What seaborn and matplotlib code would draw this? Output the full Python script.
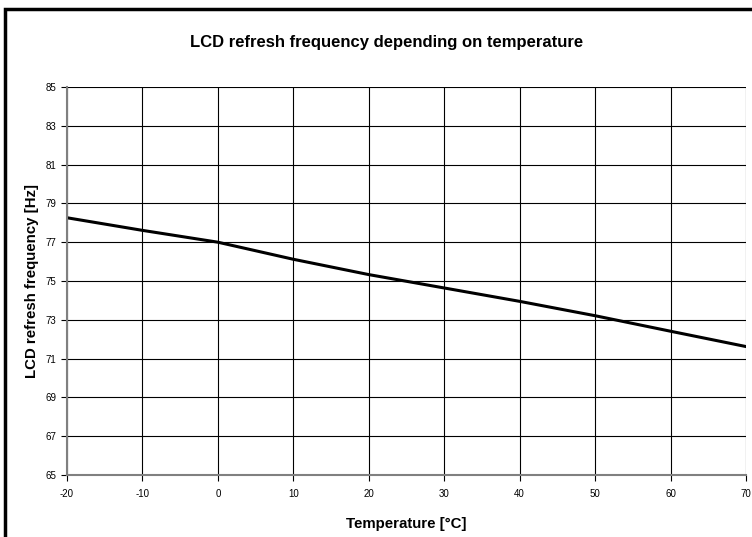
import pandas as pd
import seaborn as sns
import matplotlib.pyplot as plt
from matplotlib.patches import Rectangle

# data
temperature = [-20, -10, 0, 10, 20, 30, 40, 50, 60, 70]
frequency = [78.26, 77.61, 77.0, 76.12, 75.33, 74.64, 73.95, 73.21, 72.41, 71.62]
x_ticks = list(range(-20, 71, 10))
y_ticks = list(range(65, 86, 2))

df = pd.DataFrame({'temp': temperature, 'freq': frequency})

sns.set_theme(style='white')
plt.rcParams['font.family'] = ['Liberation Sans', 'DejaVu Sans']
plt.rcParams['axes.unicode_minus'] = False
plt.rcParams['text.color'] = 'black'
plt.rcParams['axes.labelcolor'] = 'black'
plt.rcParams['xtick.color'] = 'black'
plt.rcParams['ytick.color'] = 'black'

fig = plt.figure(figsize=(7.52, 5.37), dpi=100)
ax = fig.add_axes([0.089, 0.1155, 0.903, 0.7225])

# frame round the whole chart
fig.patches.append(Rectangle((5 / 752, -0.02), 1.0, 1 - 9 / 537 + 0.02,
                             transform=fig.transFigure, fill=False,
                             edgecolor='black', linewidth=2.5, zorder=0))

sns.lineplot(data=df, x='temp', y='freq', color='black', linewidth=2.2, ax=ax)

ax.set_xlim(-20, 70)
ax.set_ylim(65, 85)
ax.set_xticks(x_ticks)
ax.set_yticks(y_ticks)
ax.grid(True, color='black', linewidth=0.8)
ax.tick_params(axis='both', direction='out', length=4, width=0.8, color='black',
               labelsize=7, left=True, bottom=True)
ax.tick_params(axis='x', pad=6)
for side in ['top', 'right']:
    ax.spines[side].set_visible(False)
for side in ['left', 'bottom']:
    ax.spines[side].set_color('#808080')
    ax.spines[side].set_linewidth(1.5)

# title is centred on the chart area, not on the plot box
fig.text(387 / 752, 1 - 43 / 537, 'LCD refresh frequency depending on temperature',
         ha='center', va='center', fontsize=12, fontweight='bold')
ax.set_xlabel('Temperature [°C]', fontsize=10.8, fontweight='bold', labelpad=13)
ax.set_ylabel('LCD refresh frequency [Hz]', fontsize=10.8, fontweight='bold', labelpad=5)

fig.savefig('out.png', dpi=100)
